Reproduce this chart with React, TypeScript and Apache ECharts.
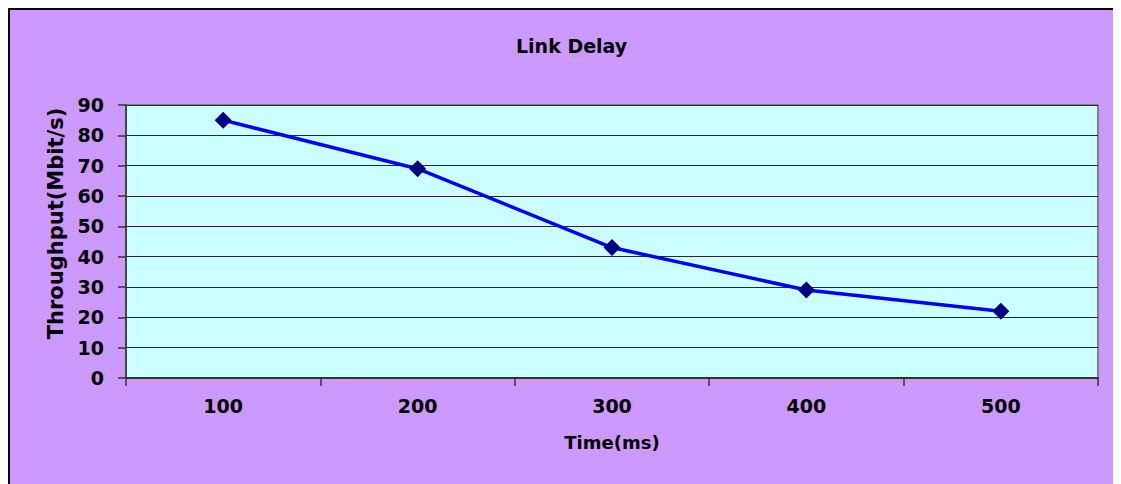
import React, { useEffect, useRef } from "react";
import * as echarts from "echarts";

const categories = ["100", "200", "300", "400", "500"];
const throughput = [85, 69, 43, 29, 22];
const yTicks = { min: 0, max: 90, interval: 10 };

export default function App() {
  const ref = useRef<HTMLDivElement>(null);
  useEffect(() => {
    if (!ref.current) return;
    const chart = echarts.init(ref.current, undefined, { renderer: "svg" });
    const font = "'DejaVu Sans', Arial, sans-serif";
    chart.setOption({
      animation: false,
      backgroundColor: "#CC99FF",
      title: {
        text: "Link Delay",
        left: 501,
        top: 21,
        textStyle: { fontFamily: font, fontSize: 19, fontWeight: "bold", color: "#000" },
      },
      grid: {
        left: 116,
        top: 95,
        width: 972,
        height: 273,
        show: true,
        backgroundColor: "#CCFFFF",
        borderColor: "#808080",
        borderWidth: 2,
      },
      xAxis: {
        type: "category",
        data: categories,
        boundaryGap: true,
        name: "Time(ms)",
        nameLocation: "middle",
        nameGap: 55,
        nameTextStyle: { fontFamily: font, fontSize: 18, fontWeight: "bold", color: "#000" },
        axisLine: { show: true, lineStyle: { color: "#333", width: 2 } },
        axisTick: { show: true, interval: 0, length: 8, lineStyle: { color: "#333", width: 1.5 } },
        axisLabel: { margin: 18, fontFamily: font, fontSize: 19, fontWeight: "bold", color: "#000" },
        splitLine: { show: false },
      },
      yAxis: {
        type: "value",
        min: yTicks.min,
        max: yTicks.max,
        interval: yTicks.interval,
        name: "Throughput(Mbit/s)",
        nameLocation: "middle",
        nameGap: 58,
        nameTextStyle: {
          fontFamily: font,
          fontSize: 21,
          fontWeight: "bold",
          color: "#000",
          padding: [0, 0, 0, 36],
        },
        axisLine: { show: true, lineStyle: { color: "#333", width: 1.5 } },
        axisTick: { show: true, length: 8, lineStyle: { color: "#333", width: 1.5 } },
        axisLabel: { margin: 22, fontFamily: font, fontSize: 19, fontWeight: "bold", color: "#000" },
        splitLine: { show: true, lineStyle: { color: "#2a2a2a", width: 1 } },
      },
      series: [
        {
          type: "line",
          data: throughput,
          symbol: "diamond",
          symbolSize: 17,
          itemStyle: { color: "#000080" },
          lineStyle: { color: "#0000FF", width: 3.5 },
        },
      ],
    });
    return () => chart.dispose();
  }, []);
  return (
    <div
      ref={ref}
      style={{
        width: 1111,
        height: 474,
        borderTop: "2px solid #000",
        borderLeft: "2px solid #000",
      }}
    />
  );
}
